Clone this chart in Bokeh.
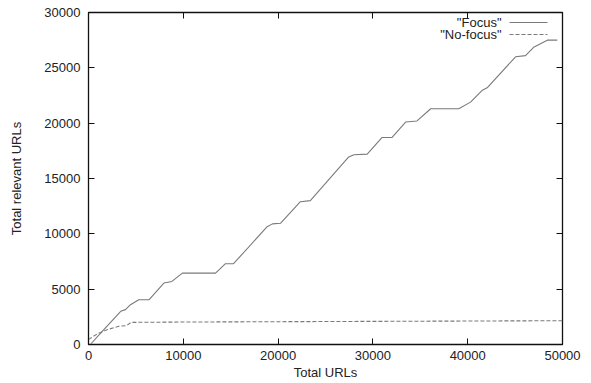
from bokeh.plotting import figure
from bokeh.models import LinearAxis, Label, Arrow, Range1d, FixedTicker
from bokeh.embed import file_html
from bokeh.resources import INLINE

# ---- data ----
focus_x = [200, 1300, 3400, 3900, 4430, 5300, 6400, 7950, 8800, 9900, 13400,
           14450, 15300, 18850, 19400, 20250, 22350, 23400, 27450, 28000, 29400,
           30950, 32000, 33450, 34650, 36100, 39050, 40300, 41500, 42050, 45050,
           46100, 46950, 48400, 49450]
focus_y = [0, 1050, 3000, 3150, 3600, 4050, 4050, 5550, 5700, 6450, 6450,
           7300, 7300, 10650, 10900, 10950, 12900, 13000, 16950, 17150, 17200,
           18700, 18700, 20100, 20200, 21300, 21300, 21900, 22950, 23200, 26000,
           26100, 26850, 27500, 27500]

nofocus_x = [0, 1000, 2000, 3200, 4000, 4500, 10000, 20000, 30000, 40000, 50000]
nofocus_y = [450, 1000, 1350, 1650, 1700, 2000, 2030, 2060, 2090, 2120, 2150]

x_ticks = [0, 10000, 20000, 30000, 40000, 50000]
y_ticks = [0, 5000, 10000, 15000, 20000, 25000, 30000]

series_labels = ['"Focus"', '"No-focus"']

FONT = "Liberation Sans"
TXT = "#222222"
LINE_C = "#7a7a7a"

p = figure(width=590, height=382, output_backend="svg", toolbar_location=None,
           x_range=Range1d(0, 50000), y_range=Range1d(0, 30000),
           min_border_left=88, min_border_right=28, min_border_top=12,
           min_border_bottom=38)

p.xgrid.visible = False
p.ygrid.visible = False
p.background_fill_color = "white"
p.border_fill_color = "white"
p.outline_line_color = "#111111"
p.outline_line_width = 1.3

for ax, ticks in ((p.xaxis[0], x_ticks), (p.yaxis[0], y_ticks)):
    ax.ticker = FixedTicker(ticks=ticks)
    ax.axis_line_color = None
    ax.major_tick_in = 6
    ax.major_tick_out = 0
    ax.minor_tick_line_color = None
    ax.major_tick_line_color = "#111111"
    ax.major_label_text_font = FONT
    ax.major_label_text_font_size = "13px"
    ax.major_label_text_color = TXT
    ax.axis_label_text_font = FONT
    ax.axis_label_text_font_size = "13px"
    ax.axis_label_text_font_style = "normal"
    ax.axis_label_text_color = TXT

p.xaxis.axis_label = "Total URLs"
p.xaxis.major_label_standoff = 6
p.xaxis.axis_label_standoff = 2
p.yaxis.axis_label = "Total relevant URLs"
p.yaxis.major_label_standoff = 8
p.yaxis.axis_label_standoff = 17

# mirror ticks (gnuplot style), without labels
for side, ticks in (("above", x_ticks), ("right", y_ticks)):
    a = LinearAxis(ticker=FixedTicker(ticks=ticks))
    a.axis_line_color = None
    a.major_tick_in = 6
    a.major_tick_out = 0
    a.minor_tick_line_color = None
    a.major_tick_line_color = "#111111"
    a.major_label_overrides = {t: "" for t in ticks}
    a.major_label_standoff = 0
    p.add_layout(a, side)

p.line(focus_x, focus_y, line_color=LINE_C, line_width=1.1)
p.line(nofocus_x, nofocus_y, line_color=LINE_C, line_width=1.1, line_dash="4 2")

# gnuplot-style key: label on the left, sample line on the right
key_rows = [(series_labels[0], 322, "solid"), (series_labels[1], 310, "4 2")]
for lab, yy, dash in key_rows:
    p.add_layout(Label(x=413, y=yy, x_units="screen", y_units="screen", text=lab,
                       text_font=FONT, text_font_size="13px", text_color=TXT,
                       text_align="right", text_baseline="middle"))
    p.add_layout(Arrow(x_start=421, y_start=yy, x_end=459, y_end=yy,
                       start_units="screen", end_units="screen", end=None,
                       line_color=LINE_C, line_width=1.1, line_dash=dash))

open("out.html", "w").write(file_html(p, INLINE))
